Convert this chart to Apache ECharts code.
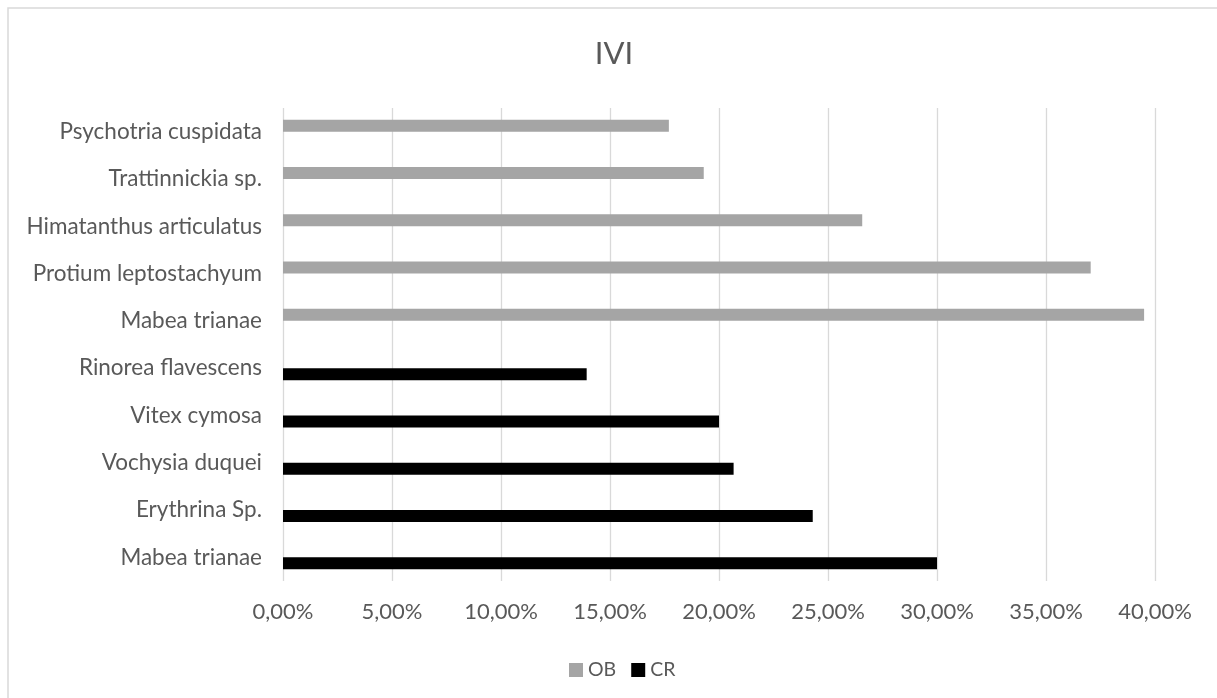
<!DOCTYPE html>
<html>
<head>
<meta charset="utf-8">
<script src="https://cdn.jsdelivr.net/npm/echarts@6/dist/echarts.min.js"></script>
<style>
  html, body { margin: 0; padding: 0; background: #fff; }
  #chart { width: 1217px; height: 698px; }
</style>
</head>
<body>
<div id="chart"></div>
<script>
// Species, listed bottom to top along the category axis
const categories = [
  'Mabea trianae', 'Erythrina Sp.', 'Vochysia duquei', 'Vitex cymosa', 'Rinorea flavescens',
  'Mabea trianae', 'Protium leptostachyum', 'Himatanthus articulatus', 'Trattinnickia sp.', 'Psychotria cuspidata'
];
// IVI values in percent
const obValues = [null, null, null, null, null, 39.5, 37.05, 26.57, 19.3, 17.7];
const crValues = [30.0, 24.3, 20.67, 20.0, 13.93, null, null, null, null, null];
const seriesNames = ['OB', 'CR'];
const axisMax = 40;
const axisStep = 5;

const FONT = 'Lato';
const TEXT = '#595959';

const fmtPct = v => v.toFixed(2).replace('.', ',') + '%';

const chart = echarts.init(document.getElementById('chart'), null, { renderer: 'canvas' });
chart.setOption({
  animation: false,
  backgroundColor: '#fff',
  title: {
    text: 'IVI',
    left: 609,
    top: 33,
    textAlign: 'center',
    textStyle: { fontFamily: FONT, fontSize: 31, fontWeight: 'normal', color: TEXT }
  },
  graphic: [{
    type: 'rect',
    shape: { x: 8, y: 8, width: 1230, height: 720 },
    style: { fill: 'none', stroke: '#d9d9d9', lineWidth: 1.5 },
    silent: true
  }],
  legend: {
    data: seriesNames,
    left: 564,
    top: 655,
    itemWidth: 14,
    itemHeight: 14,
    itemGap: 15,
    icon: 'rect',
    textStyle: { fontFamily: FONT, fontSize: 19.5, color: TEXT }
  },
  grid: { left: 283, right: 62, top: 108, bottom: 117, containLabel: false },
  xAxis: {
    type: 'value',
    min: 0,
    max: axisMax,
    interval: axisStep,
    axisLine: { show: false },
    axisTick: { show: false },
    splitLine: { lineStyle: { color: '#d9d9d9', width: 1.3 } },
    axisLabel: {
      formatter: fmtPct,
      margin: 20,
      fontFamily: FONT, fontSize: 22, color: TEXT
    }
  },
  yAxis: {
    type: 'category',
    data: categories,
    axisLine: { show: false },
    axisTick: { show: false },
    axisLabel: { margin: 21, fontFamily: FONT, fontSize: 22.5, color: TEXT }
  },
  series: [
    {
      name: seriesNames[0], type: 'bar', data: obValues,
      barWidth: 12, barGap: '0%',
      itemStyle: { color: '#a5a5a5' }
    },
    {
      name: seriesNames[1], type: 'bar', data: crValues,
      barWidth: 12, barGap: '0%',
      itemStyle: { color: '#000000' }
    }
  ]
});
</script>
</body>
</html>
